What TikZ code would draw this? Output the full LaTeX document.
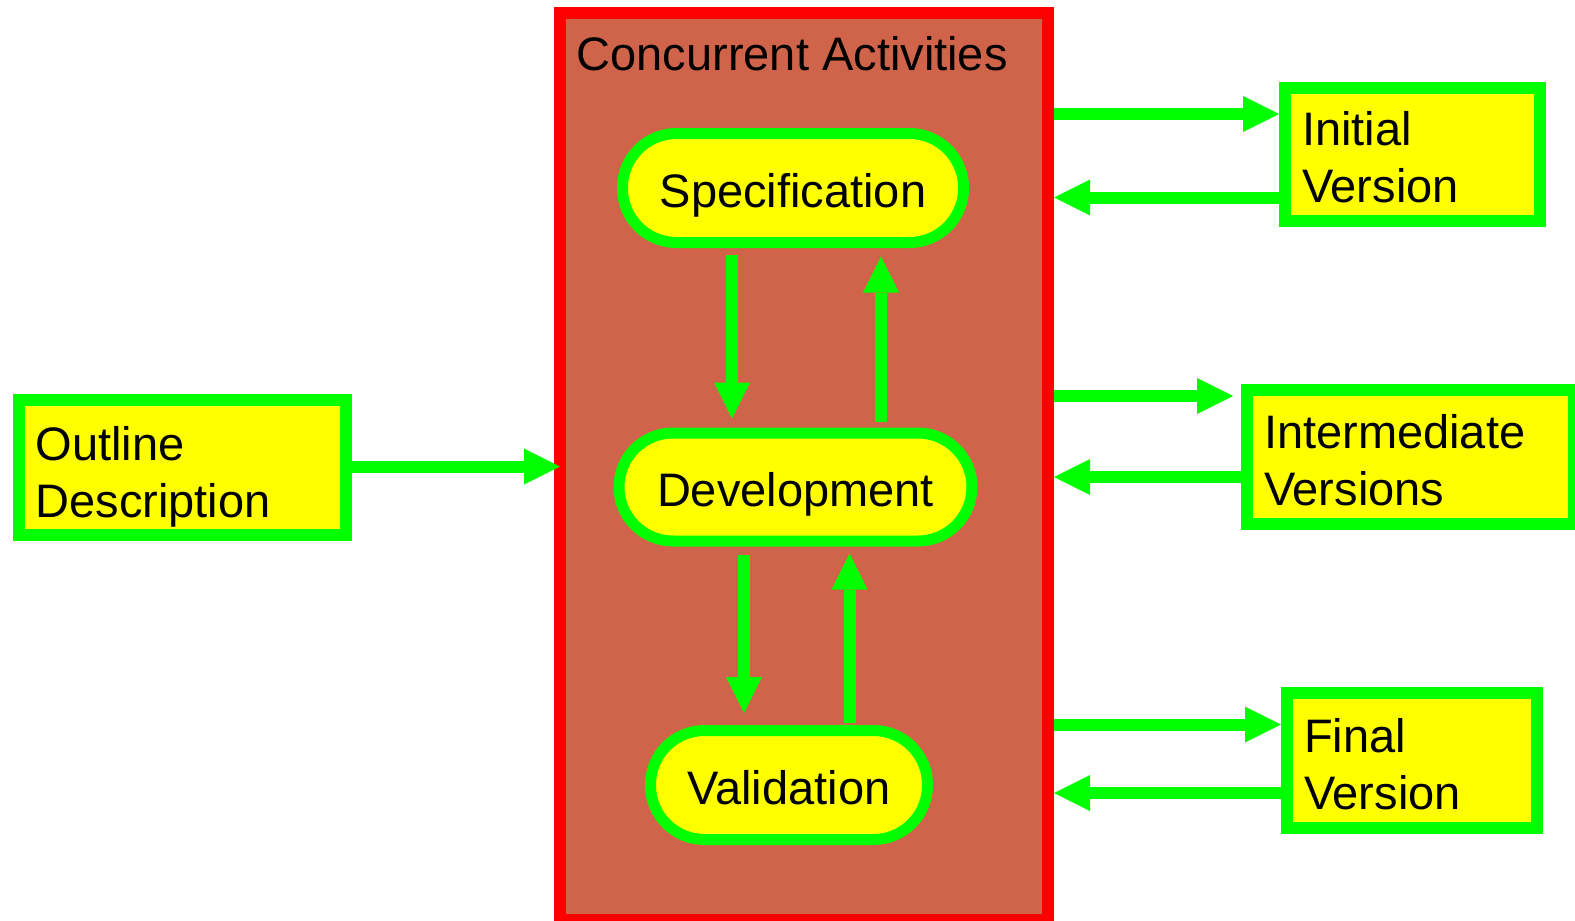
\documentclass[tikz,border=0pt]{standalone}
\usepackage{fontspec}
\setmainfont{Liberation Sans}
\usetikzlibrary{arrows.meta,calc}
\definecolor{brick}{RGB}{208,100,74}
\definecolor{lime}{RGB}{0,255,0}
\definecolor{lemon}{RGB}{255,255,0}
\begin{document}
\begin{tikzpicture}[x=1pt,y=-1pt,
  every node/.style={font=\fontsize{47}{57}\selectfont},
  activity/.style={draw=lime, fill=lemon, line width=11pt, rounded corners=54pt,
    minimum height=109pt, inner sep=0pt, text height=38pt, text depth=0pt},
  product/.style={draw=lime, fill=lemon, line width=12pt, align=left,
    inner xsep=17pt, inner ysep=0pt, text height=38pt},
  flow/.style={draw=lime, line width=12pt,
    -{Triangle[length=36pt,width=36pt,line width=0pt]}}
]
\useasboundingbox (0,0) rectangle (1575,921);

% container of the concurrent activities
\node[draw=red, fill=brick, line width=12pt, minimum width=488pt,
  minimum height=907.5pt, inner sep=0pt] (concurrent) at (804,466.25) {};
\node[anchor=base west, inner sep=0pt] (title) at (576.5,70) {Concurrent Activities};

% activities
\node[activity, minimum width=341pt] (spec) at (793,188) {Specification};
\node[activity, minimum width=353pt, minimum height=108pt] (dev) at (795.5,487) {Development};
\node[activity, minimum width=277pt] (val) at (789,785) {Validation};

% input and products
\node[product, minimum width=327pt, minimum height=135pt, text width=293pt,
  text depth=53pt] (outline) at (182,467.5) {Outline\\Description};
\node[product, minimum width=255pt, minimum height=133pt, text width=221pt,
  text depth=57pt] (initial) at (1412.5,154.5) {Initial\\Version};
\node[product, minimum width=327pt, minimum height=134pt, text width=293pt,
  text depth=56pt] (inter) at (1410.5,457) {Intermediate\\Versions};
\node[product, minimum width=250pt, minimum height=135pt, text width=216pt,
  text depth=55pt] (final) at (1412,760.5) {Final\\Version};

% feedback between activities
\coordinate (sd) at ($(spec.south)+(-61,0)$);
\coordinate (ds) at ($(spec.south)+(88,0)$);
\draw[flow, shorten <=6.5pt, shorten >=9pt] (sd) -- (sd |- dev.north);
\draw[flow, shorten <=6pt, shorten >=8.5pt] (ds |- dev.north) -- (ds);
\coordinate (dv) at ($(dev.south)+(-51.5,0)$);
\coordinate (vd) at ($(dev.south)+(54,0)$);
\draw[flow, shorten <=8pt, shorten >=12pt] (dv) -- (dv |- val.north);
\draw[flow, shorten <=2pt, shorten >=7pt] (vd |- val.north) -- (vd);

% input
\coordinate (o1) at ($(outline.east)+(0,-1)$);
\draw[flow, shorten >=-6pt] (o1) -- (o1 -| concurrent.west);

% exchanges with the products
\coordinate (i1) at ($(initial.west)+(0,-40.5)$);
\coordinate (i2) at ($(initial.west)+(0,43)$);
\draw[flow] (i1 -| concurrent.east) -- (i1);
\draw[flow] (i2) -- (i2 -| concurrent.east);
\coordinate (m1) at ($(inter.west)+(0,-61)$);
\coordinate (m2) at ($(inter.west)+(0,20)$);
\draw[flow, shorten >=8pt] (m1 -| concurrent.east) -- (m1);
\draw[flow] (m2) -- (m2 -| concurrent.east);
\coordinate (f1) at ($(final.west)+(0,-36)$);
\coordinate (f2) at ($(final.west)+(0,32.5)$);
\draw[flow] (f1 -| concurrent.east) -- (f1);
\draw[flow] (f2) -- (f2 -| concurrent.east);
\end{tikzpicture}
\end{document}
